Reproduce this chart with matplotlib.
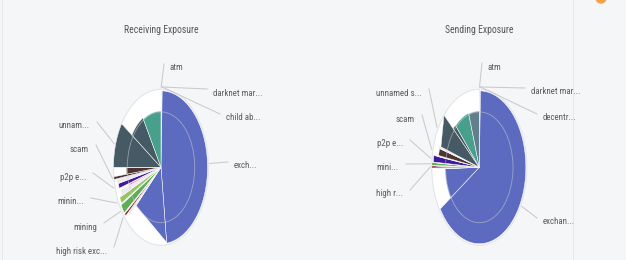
import numpy as np
import matplotlib
matplotlib.use('Agg')
import matplotlib.pyplot as plt
from matplotlib import font_manager
from matplotlib.patches import Ellipse, Circle

# pick a narrow font if one is installed (the reference text looks condensed)
installed = {f.name for f in font_manager.fontManager.ttflist}
font = 'DejaVu Sans'
for cand in ['Roboto Condensed', 'Liberation Sans Narrow', 'Open Sans Condensed', 'Roboto']:
    if cand in installed:
        font = cand
        break
plt.rcParams['font.family'] = [font, 'DejaVu Sans']

# --- data: slices clockwise from 12 o'clock, sweep in degrees, outer radius (start, end) ---
recv_names = ['atm', 'darknet market', 'child abuse', 'exchange', 'exchange', 'other',
              'high risk exchange', 'other', 'mining', 'other', 'mining pool', 'other',
              'payment', 'other', 'p2p exchange', 'other', 'scam', 'gambling', 'other',
              'unnamed service', 'unnamed service 2', 'merchant']
recv_sweep = [0.5, 0.5, 0.5, 171.5, 54, 3, 2, 1, 7, 1, 5, 5, 1.5, 0.5, 4, 4, 2, 6.5, 0.5, 34, 25, 31]
recv_r0 = [1.0, 1.0, 1.0, 0.98, 0.97, 0.9, 0.97, 0.9, 0.97, 0.9, 0.95, 0.9, 0.7, 0.7, 0.92, 0.95,
           1.0, 0.73, 0.7, 1.0, 0.74, 0.72]
recv_r1 = [1.0, 1.0, 1.0, 0.98, 0.72, 0.9, 0.97, 0.9, 0.97, 0.9, 0.95, 0.9, 0.7, 0.7, 0.92, 0.95,
           1.0, 0.73, 0.7, 1.0, 0.74, 0.72]

send_names = ['atm', 'darknet market', 'decentralized exchange', 'exchange', 'exchange', 'other',
              'high risk exchange', 'other', 'mining', 'other', 'p2p exchange', 'other', 'scam',
              'other', 'unnamed service', 'unnamed service 2', 'merchant', 'ico']
send_sweep = [0.5, 0.5, 0.5, 235.5, 31.5, 1, 1.5, 0.5, 2, 0.5, 5, 1, 6, 2, 24, 5, 25, 18]
send_r0 = [1.0, 1.0, 1.0, 0.98, 0.72, 0.9, 1.0, 0.9, 1.0, 0.9, 0.97, 0.9, 0.87, 0.9, 0.85, 0.74, 0.73, 0.72]
send_r1 = [1.0, 1.0, 1.0, 0.98, 0.72, 0.9, 1.0, 0.9, 1.0, 0.9, 0.97, 0.9, 0.87, 0.9, 1.0, 0.74, 0.73, 0.72]

# colours per category
cmap = {
    'atm': '#9e9e9e', 'darknet market': '#37474f', 'child abuse': '#b0bec5',
    'decentralized exchange': '#b0bec5',
    'exchange': '#5c6bc0', 'other': '#e9ebee', 'high risk exchange': '#8e1f3c',
    'mining': '#5fad56', 'mining pool': '#95c463', 'payment': '#e91e63',
    'p2p exchange': '#3f1a9b', 'scam': '#4e342e', 'gambling': '#4e342e',
    'unnamed service': '#455a64', 'unnamed service 2': '#455a64',
    'merchant': '#48a08c', 'ico': '#62808c',
}

# labels: (slice index, text, text x, text y, alignment)
recv_labels = [(0, 'atm', 170, 68, 'left'),
               (1, 'darknet mar...', 213, 93, 'left'),
               (2, 'child ab...', 226, 118, 'left'),
               (3, 'exch...', 234, 166, 'left'),
               (19, 'unnam...', 90, 126, 'right'),
               (16, 'scam', 89, 149, 'right'),
               (14, 'p2p e...', 86, 177, 'right'),
               (10, 'minin...', 84, 202, 'right'),
               (8, 'mining', 97, 227, 'right'),
               (6, 'high risk exc...', 107, 251, 'right')]
send_labels = [(0, 'atm', 488, 67, 'left'),
               (1, 'darknet mar...', 531, 92, 'left'),
               (2, 'decentr...', 543, 118, 'left'),
               (3, 'exchan...', 543, 222, 'left'),
               (14, 'unnamed s...', 422, 93, 'right'),
               (12, 'scam', 415, 119, 'right'),
               (10, 'p2p e...', 403, 144, 'right'),
               (8, 'mini...', 399, 168, 'right'),
               (6, 'high r...', 403, 194, 'right')]

BG = '#f5f6f8'
RX, RY = 47.5, 78  # the source chart is squeezed horizontally

fig = plt.figure(figsize=(6.26, 2.60), dpi=100, facecolor=BG)
ax = fig.add_axes([0, 0, 1, 1])
ax.set_xlim(0, 626)
ax.set_ylim(260, 0)
ax.axis('off')


def pt(cx, cy, ang, r):
    a = np.radians(ang)
    return cx + RX * r * np.sin(a), cy - RY * r * np.cos(a)


def draw_rose(cx, cy, title, names, sweep, r0, r1, labels):
    ax.add_patch(Ellipse((cx, cy), 2 * RX, 2 * RY, fc='white', ec='#e3e5e8', lw=0.8, zorder=1))
    starts = np.concatenate([[0], np.cumsum(sweep)[:-1]])
    for name, s, w, ra, rb in zip(names, starts, sweep, r0, r1):
        if ra == rb:
            t = np.linspace(s, s + w, max(int(w) + 2, 3))
            xs, ys = pt(cx, cy, t, ra)
        else:
            xs, ys = pt(cx, cy, np.array([s, s + w]), np.array([ra, rb]))
        xs = np.concatenate([[cx], xs])
        ys = np.concatenate([[cy], ys])
        ax.fill(xs, ys, color=cmap[name], ec='white', lw=0.35, zorder=2)
    ax.add_patch(Ellipse((cx, cy), 2 * RX * 0.71, 2 * RY * 0.71, fill=False,
                         ec='#c9ccd1', lw=0.6, alpha=0.6, zorder=3))
    for idx, text, tx, ty, ha in labels:
        mid = starts[idx] + sweep[idx] / 2
        x0, y0 = pt(cx, cy, mid, 1.03)
        x1 = tx + 7 if ha == 'right' else tx - 6
        y1 = ty - 4
        ax.plot([x0, x1], [y0, y1], color='#c8cacd', lw=0.75, zorder=4)
        ax.text(tx, ty, text, ha=ha, va='center', fontsize=6.4, color='#5b5b5b', zorder=5)
    ax.text(cx, 30, title, ha='center', va='center', fontsize=6.9, color='#555555')


draw_rose(161, 167.3, 'Receiving Exposure', recv_names, recv_sweep, recv_r0, recv_r1, recv_labels)
draw_rose(479.3, 167.3, 'Sending Exposure', send_names, send_sweep, send_r0, send_r1, send_labels)

# panel edges and the corner badge of the source page
ax.plot([572.5, 572.5], [0, 260], color='#e6e8eb', lw=0.8)
ax.plot([2, 2], [0, 260], color='#e6e8eb', lw=0.8)
ax.add_patch(Circle((601, -2), 5, color='#f2a34a', zorder=6))

fig.savefig('out.png', dpi=100, facecolor=BG)
